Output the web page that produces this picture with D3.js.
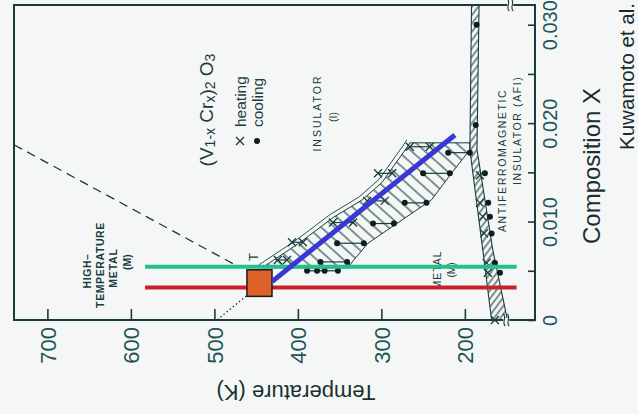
<!DOCTYPE html>
<html>
<head>
<meta charset="utf-8">
<script src="https://cdn.jsdelivr.net/npm/d3@7"></script>
<style>
  html, body { margin: 0; padding: 0; background: #f5f7f7; }
  svg { display: block; }
</style>
</head>
<body>
<svg id="chart" width="638" height="414"></svg>
<script>
// ---------------- data ----------------
// Temperature (K) axis and composition x axis of (V1-xCrx)2O3
const tempDomain = [740, 116];
const compDomain = [0, 0.032];
const tempTicks = [700, 600, 500, 400, 300, 200];
const compTicks = [0, 0.005, 0.010, 0.015, 0.020, 0.025, 0.030];
const compTickLabels = ["0", "", "0.010", "", "0.020", "", "0.030"];
const tempBreak = 148;

// metal-insulator transition: heating runs (x) and cooling runs (dots)
const heatingRows = [
  { x: 0.0061, t: [424, 413] },
  { x: 0.0079, t: [407, 394] },
  { x: 0.0099, t: [358, 334] },
  { x: 0.0121, t: [317, 296] },
  { x: 0.0149, t: [304, 287] },
  { x: 0.0176, t: [266, 242] }
];
const coolingRows = [
  { x: 0.0050, t: [389, 377, 368, 352] },
  { x: 0.0059, t: [373, 341] },
  { x: 0.0078, t: [353, 321] },
  { x: 0.0098, t: [310, 285] },
  { x: 0.0119, t: [272, 246] },
  { x: 0.0149, t: [250, 218] },
  { x: 0.0170, t: [220, 194] }
];
// hysteresis region [T, x]
const bandUpper = [[443, 0.0053], [397, 0.0079], [358, 0.0104], [323, 0.0122], [299, 0.0140], [268, 0.0177], [266, 0.0180]];
const bandLower = [[194, 0.0180], [194, 0.0173], [216, 0.0149], [240, 0.0122], [278, 0.0100], [316, 0.0078], [335, 0.0059], [340, 0.0053]];

// antiferromagnetic insulator boundary strip [T, x]
const afiLeft = [[192, 0.032], [194, 0.0173], [178.5, 0.0071], [168, 0]];
const afiRight = [[183, 0.032], [185.5, 0.0173], [166.5, 0.0071], [149, 0]];
const afiCooling = [
  { x: 0.0300, t: 186 }, { x: 0.0198, t: 187 }, { x: 0.0149, t: 176 }, { x: 0.0119, t: 172 },
  { x: 0.0105, t: 170 }, { x: 0.0088, t: 168 }, { x: 0.0058, t: 164 }, { x: 0.0048, t: 158 }
];
const afiHeating = [
  { x: 0.0147, t: 182 }, { x: 0.0119, t: 182 }, { x: 0.0105, t: 178.5 }, { x: 0.0088, t: 177 },
  { x: 0.0058, t: 174 }, { x: 0.0048, t: 172.5 }, { x: 0.0, t: 164 }
];

// high-temperature metal boundary and its extrapolation [T, x]
const metalBoundary = [[740, 0.0178], [475, 0.0056]];
const metalExtrap = [[458, 0.0027], [497, 0]];

// critical point box, composition cuts and fitted line
const critBox = { t0: 431, t1: 461, x0: 0.0024, x1: 0.0051 };
const cutGreen = { x: 0.0054, t: [583, 138] };
const cutRed = { x: 0.0033, t: [583, 138] };
const fitLine = [[431, 0.0039], [212, 0.0188]];

// ---------------- drawing ----------------
const ink = "#183c3c";
const labelInk = "#1f5454";
const font = "'Liberation Sans', Arial, sans-serif";

const svg = d3.select("#chart");
const tScale = d3.scaleLinear().domain(tempDomain).range([14, 535]);
const cScale = d3.scaleLinear().domain(compDomain).range([320, 5]);
const px = d => tScale(d[0]);
const py = d => cScale(d[1]);
const line = d3.line().x(px).y(py);

const plotLeft = tScale(tempDomain[0]), plotRight = tScale(tempDomain[1]);
const plotTop = cScale(compDomain[1]), plotBottom = cScale(compDomain[0]);

const defs = svg.append("defs");
defs.append("pattern").attr("id", "hatchBand")
  .attr("patternUnits", "userSpaceOnUse").attr("width", 9).attr("height", 9)
  .attr("patternTransform", "rotate(-48)")
  .append("line").attr("x1", 1).attr("y1", 0).attr("x2", 1).attr("y2", 9)
  .attr("stroke", ink).attr("stroke-width", 1.1);
defs.append("pattern").attr("id", "hatchStrip")
  .attr("patternUnits", "userSpaceOnUse").attr("width", 5).attr("height", 5)
  .attr("patternTransform", "rotate(37)")
  .append("line").attr("x1", 1).attr("y1", 0).attr("x2", 1).attr("y2", 5)
  .attr("stroke", ink).attr("stroke-width", 1.1);

// hysteresis band
svg.append("path")
  .attr("d", line(bandUpper.concat(bandLower)) + "Z")
  .attr("fill", "url(#hatchBand)").attr("stroke", ink).attr("stroke-width", 1);
// doubled heating edge of the band
svg.append("path")
  .attr("d", line(bandUpper))
  .attr("transform", "translate(-3,-3)")
  .attr("fill", "none").attr("stroke", ink).attr("stroke-width", 0.9);

// AFI strip
svg.append("path")
  .attr("d", line(afiLeft.concat(afiRight.slice().reverse())) + "Z")
  .attr("fill", "url(#hatchStrip)").attr("stroke", ink).attr("stroke-width", 1.1);

// metal boundary (dashed) and extrapolation (dotted)
svg.append("path").attr("d", line(metalBoundary))
  .attr("fill", "none").attr("stroke", ink).attr("stroke-width", 1.3).attr("stroke-dasharray", "9,6");
svg.append("path").attr("d", line(metalExtrap))
  .attr("fill", "none").attr("stroke", ink).attr("stroke-width", 1.3).attr("stroke-dasharray", "1.5,2.5");

// data rows
const gData = svg.append("g");
function marker(x, y, kind) {
  if (kind === "heat") {
    gData.append("path").attr("d", `M${x - 4},${y - 4}L${x + 4},${y + 4}M${x - 4},${y + 4}L${x + 4},${y - 4}`)
      .attr("stroke", ink).attr("stroke-width", 1.3).attr("fill", "none");
  } else {
    gData.append("circle").attr("cx", x).attr("cy", y).attr("r", 3).attr("fill", "#0e1e1e");
  }
}
function drawRow(row, kind) {
  const xs = row.t.map(t => tScale(t));
  const y = cScale(row.x);
  gData.append("line").attr("x1", d3.min(xs)).attr("x2", d3.max(xs)).attr("y1", y).attr("y2", y)
    .attr("stroke", ink).attr("stroke-width", 1.2);
  xs.forEach(x => marker(x, y, kind));
}
heatingRows.forEach(r => drawRow(r, "heat"));
coolingRows.forEach(r => drawRow(r, "cool"));
afiCooling.forEach(d => marker(tScale(d.t), cScale(d.x), "cool"));
afiHeating.forEach(d => marker(tScale(d.t), cScale(d.x), "heat"));

// frame
svg.append("rect").attr("x", plotLeft).attr("y", plotTop)
  .attr("width", plotRight - plotLeft).attr("height", plotBottom - plotTop)
  .attr("fill", "none").attr("stroke", ink).attr("stroke-width", 2);

// axis breaks
[plotTop, plotBottom].forEach((yb, i) => {
  const xb = tScale(tempBreak) + (i === 0 ? 2 : -2);
  svg.append("rect").attr("x", xb - 3).attr("y", yb - 2).attr("width", 6).attr("height", 4).attr("fill", "#f5f7f7");
  [-2, 2].forEach(o => {
    svg.append("path")
      .attr("d", `M${xb + o - 1},${yb - 6} C${xb + o + 3},${yb - 3} ${xb + o - 3},${yb + 3} ${xb + o + 1},${yb + 6}`)
      .attr("fill", "none").attr("stroke", ink).attr("stroke-width", 1.1);
  });
});

// temperature axis (bottom, ticks inward)
const tAxis = svg.append("g").attr("transform", `translate(0,${plotBottom})`)
  .call(d3.axisBottom(tScale).tickValues(tempTicks).tickSizeInner(-11).tickSizeOuter(0));
tAxis.select(".domain").remove();
tAxis.selectAll(".tick line").attr("stroke", ink).attr("stroke-width", 1.6);
tAxis.selectAll(".tick text")
  .attr("transform", "rotate(-90)").attr("x", -7).attr("y", 0).attr("dy", "0.36em")
  .attr("text-anchor", "end")
  .attr("font-family", font).attr("font-size", 22).attr("fill", labelInk);

// composition axis (right, ticks inward)
const cAxis = svg.append("g").attr("transform", `translate(${plotRight},0)`)
  .call(d3.axisRight(cScale).tickValues(compTicks).tickSizeInner(-7).tickSizeOuter(0)
    .tickFormat((d, i) => compTickLabels[i]));
cAxis.select(".domain").remove();
cAxis.selectAll(".tick line").attr("stroke", ink).attr("stroke-width", 1.6);
cAxis.selectAll(".tick text")
  .attr("transform", "rotate(-90)").attr("x", 0).attr("y", 22).attr("dy", 0)
  .attr("text-anchor", "middle")
  .attr("font-family", font).attr("font-size", 20).attr("fill", labelInk);

// axis titles
svg.append("text").attr("transform", "translate(296,392) rotate(180)")
  .attr("text-anchor", "middle").attr("dominant-baseline", "central")
  .attr("font-family", font).attr("font-size", 22).attr("fill", "#1a3030")
  .text("Temperature (K)");
svg.append("text").attr("transform", "translate(591,166) rotate(-90)")
  .attr("text-anchor", "middle").attr("dominant-baseline", "central")
  .attr("font-family", font).attr("font-size", 24).attr("fill", "#1a3030")
  .text("Composition X");
svg.append("text").attr("transform", "translate(626,150) rotate(-90)")
  .attr("text-anchor", "start").attr("dominant-baseline", "central")
  .attr("font-family", font).attr("font-size", 20.5).attr("fill", "#1a2a2a")
  .text("Kuwamoto et al.");

// in-plot annotations (rotated)
function vtext(x, y, str, size, opts = {}) {
  return svg.append("text").attr("transform", `translate(${x},${y}) rotate(-90)`)
    .attr("text-anchor", opts.anchor || "middle").attr("dominant-baseline", "central")
    .attr("font-family", font).attr("font-size", size)
    .attr("font-weight", opts.weight || "normal")
    .attr("letter-spacing", opts.spacing || 0)
    .attr("fill", opts.fill || ink)
    .text(str);
}

// compound formula with subscripts
const formula = svg.append("text").attr("transform", "translate(206,110) rotate(-90)")
  .attr("text-anchor", "middle").attr("dominant-baseline", "central")
  .attr("font-family", font).attr("font-size", 19).attr("fill", ink);
[["(V", false], ["1-x", true], [" Cr", false], ["x", true], [")", false], ["2", true], [" O", false], ["3", true]]
  .forEach(([s, sub]) => {
    const ts = formula.append("tspan").text(s);
    if (sub) ts.attr("baseline-shift", "-30%").attr("font-size", 14);
  });

// legend
marker(240, 141, "heat");
marker(257, 141, "cool");
vtext(240, 127, "heating", 15.5, { anchor: "start" });
vtext(257, 127, "cooling", 15.5, { anchor: "start" });

vtext(317, 113, "INSULATOR", 10.5, { spacing: 2 });
vtext(333, 117, "(I)", 10.5);

vtext(87, 271, "HIGH–", 10.5, { weight: "bold", spacing: 0.6 });
vtext(100, 265, "TEMPERATURE", 10.5, { weight: "bold", spacing: 0.6 });
vtext(113, 268, "METAL", 10.5, { weight: "bold", spacing: 0.8 });
vtext(127, 262, "(M)", 10.5, { weight: "bold" });

vtext(437, 270, "METAL", 10.5, { spacing: 1 });
vtext(451, 270, "(M)", 10);

vtext(502, 232, "ANTIFERROMAGNETIC", 10.5, { anchor: "start", spacing: 1.6 });
vtext(517, 185, "INSULATOR  (AFI)", 10.5, { anchor: "start", spacing: 1.6 });

vtext(253, 257, "T", 13);

// composition cuts
[[cutGreen, "#22c08c"], [cutRed, "#c9202a"]].forEach(([c, col]) => {
  svg.append("line")
    .attr("x1", tScale(c.t[0])).attr("x2", tScale(c.t[1]))
    .attr("y1", cScale(c.x)).attr("y2", cScale(c.x))
    .attr("stroke", col).attr("stroke-width", 4);
});

// critical point box
svg.append("rect")
  .attr("x", tScale(critBox.t1)).attr("y", cScale(critBox.x1))
  .attr("width", tScale(critBox.t0) - tScale(critBox.t1))
  .attr("height", cScale(critBox.x0) - cScale(critBox.x1))
  .attr("fill", "#e0622b").attr("stroke", "#1a1a1a").attr("stroke-width", 1.5);

// fitted transition line
svg.append("path").attr("d", line(fitLine))
  .attr("fill", "none").attr("stroke", "#3a38d2").attr("stroke-width", 5);
</script>
</body>
</html>
